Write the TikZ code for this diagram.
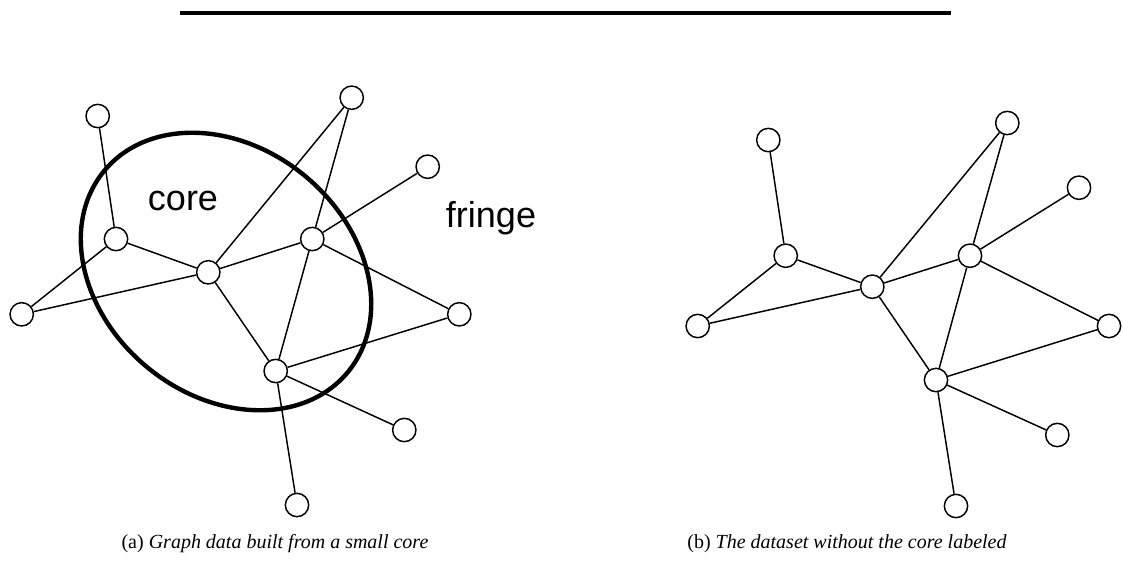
\documentclass[tikz,border=0pt]{standalone}
\usepackage{fontspec}
\setmainfont{Liberation Serif}
\newfontfamily\helv{Liberation Sans}
\usetikzlibrary{positioning}

\tikzset{
  vtx/.style={circle, draw, line width=1.1pt, fill=white, minimum size=17.5pt, inner sep=0pt},
  link/.style={line width=1.1pt},
  ring/.style={line width=3.3pt},
  tag/.style={font=\helv\fontsize{27}{30}\selectfont, anchor=base},
  capt/.style={font=\fontsize{15}{18}\selectfont, anchor=base}
}

\begin{document}
\begin{tikzpicture}[x=0.75pt,y=-0.75pt]
  \useasboundingbox (0,0) rectangle (1123,561);
  \draw[line width=2.6pt] (180,13) -- (951,13);

  % (a) graph with its core ringed
  \foreach \n/\x/\y in {a/97.7/116, b/116/239, c/208.3/272.3, d/312.3/239, e/351.7/97.7,
      f/427.7/166.7, g/21.7/314.3, h/459.3/314.3, i/275.7/371, j/404.3/430, k/297/505}
    \node[vtx] (L\n) at (\x,\y) {};
  \foreach \s/\t in {a/b, b/g, b/c, g/c, c/e, c/d, c/i, d/e, d/f, d/h, d/i, h/i, i/j, i/k}
    \draw[link] (L\s) -- (L\t);
  \draw[ring, rotate around={-39.5:(226,271.5)}] (226,271.5) ellipse [x radius=158, y radius=124];
  \node[tag] (core) at (183,210.7) {core};
  \node[tag] (fringe) at (491,227) {fringe};
  \node[capt] (capA) at (275,548) {(a) \textit{Graph data built from a small core}};

  % (b) same graph, no core marked
  \foreach \n/\x/\y in {a/768.3/140, b/785.7/255.7, c/872.3/286.7, d/970/255.7, e/1007.3/123,
      f/1079/187.7, g/697.7/326, h/1109/326, i/936/380, j/1057.3/435, k/956/506}
    \node[vtx] (R\n) at (\x,\y) {};
  \foreach \s/\t in {a/b, b/g, b/c, g/c, c/e, c/d, c/i, d/e, d/f, d/h, d/i, h/i, i/j, i/k}
    \draw[link] (R\s) -- (R\t);
  \node[capt] (capB) at (847,548) {(b) \textit{The dataset without the core labeled}};
\end{tikzpicture}
\end{document}
